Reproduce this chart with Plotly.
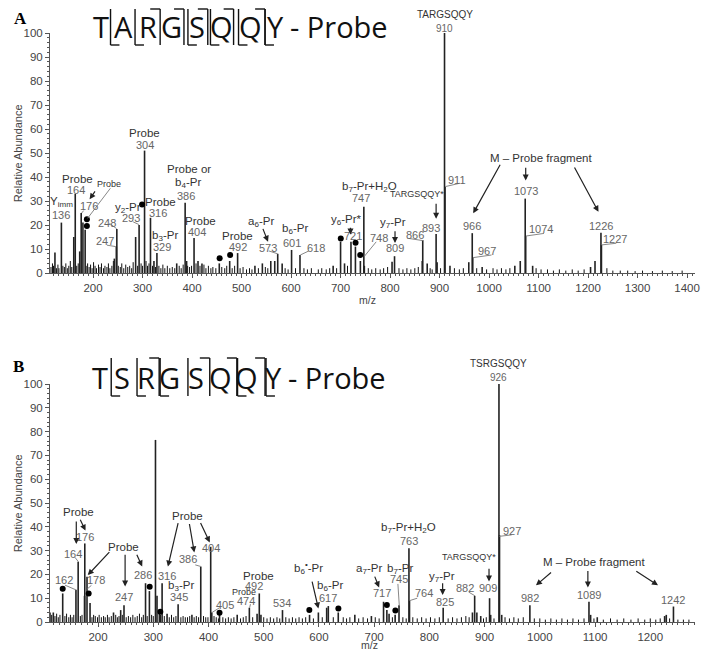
import plotly.graph_objects as go

# ---------------- data: panel A (TARGSQQY - Probe) ----------------
a_mz = [123, 136, 161, 164, 173, 176, 179.5, 184, 243, 247, 248, 286, 293, 304, 316, 323, 329,
        369, 386, 389, 404, 412, 420, 455, 476, 492, 527, 542, 559, 567, 573, 582, 601, 618,
        685, 700, 708, 721, 730, 740, 747, 748, 804, 809, 865, 866, 875, 893, 895, 910, 911,
        921, 959, 966, 967, 986, 1052, 1063, 1073, 1074, 1088, 1205, 1214, 1226, 1227]
a_int = [8.5, 21, 15, 33, 9, 25, 21, 18, 6, 11, 18.3, 15, 20, 51, 23, 5, 8.3,
         4, 29.3, 5, 14.6, 5, 4, 4, 5, 8.3, 3, 4, 5, 5, 8, 4, 9.6, 7.5,
         3, 13, 4, 13, 11, 5, 27.6, 3, 4.7, 7, 5, 13.7, 4, 16.2, 4.5, 100, 36,
         3, 4.5, 16.6, 6.4, 2.5, 3, 5, 31, 15.4, 3, 2.5, 5, 16.8, 11.7]
a_noise_mz = [115, 118, 120, 126, 129, 131, 139, 142, 145, 148, 151, 154, 157, 167, 170, 186, 189,
              192, 195, 198, 201, 204, 207, 211, 214, 217, 221, 224, 228, 231, 234, 238, 241, 251,
              255, 258, 262, 266, 270, 274, 278, 281, 290, 297, 300, 307, 310, 313, 320, 326, 333,
              337, 341, 345, 350, 355, 360, 365, 374, 378, 382, 391, 395, 399, 408, 416, 424, 428,
              433, 438, 442, 448, 460, 466, 470, 481, 486, 497, 503, 510, 516, 521, 534, 548, 553,
              588, 594, 609, 626, 633, 641, 655, 662, 671, 678, 692, 714, 756, 763, 771, 780, 787,
              795, 818, 826, 834, 842, 850, 857, 881, 885, 902, 930, 940, 948, 975, 995, 1008, 1016,
              1025, 1034, 1042, 1095, 1105, 1118, 1130, 1142, 1155, 1168, 1180, 1192, 1238, 1250,
              1265, 1280, 1295, 1310, 1330, 1350, 1370, 1390]
a_noise_int = [2.5, 4, 3, 2, 3.5, 2, 3, 2.5, 4, 2, 3, 5, 2.5, 3, 4, 3, 4,
               2.5, 3.5, 2, 4.5, 3, 2, 3.5, 2.5, 4, 2, 3, 2.5, 4, 2, 3, 5, 3,
               2.5, 4, 2, 3.5, 2.5, 3, 2, 4.5, 3, 4, 3, 5, 3, 4, 3, 2.5, 3,
               2, 3.5, 2, 3, 2, 2.5, 2, 3, 2, 3.5, 3, 2.5, 3, 4, 3, 3.5, 2,
               3, 2, 2.5, 2, 2.5, 2, 3, 2, 3, 2, 2.5, 1.5, 2, 1.5, 2, 2.5, 2,
               2, 1.5, 2, 2, 1.5, 2, 1.5, 2, 1.5, 2, 2, 3, 2, 1.5, 2, 1.5, 2,
               2.5, 2, 1.5, 2, 1.5, 2, 2.5, 2, 1.5, 2, 2, 1.5, 2, 2, 1.5, 2, 1.5,
               2, 1.5, 2, 2, 1.5, 1.5, 1, 1.5, 1, 1.5, 1, 1.5, 2, 1,
               1, 1, 0.8, 1, 0.8, 1, 0.8, 1]
a_dot_mz = [187.5, 187.5, 299, 455.7, 476.9, 700.4, 730.3, 739.7]
a_dot_int = [22.4, 19.6, 28.5, 6.1, 7.5, 14.4, 12.6, 7.5]

# ---------------- data: panel B (TSRGSQQY - Probe) ----------------
b_mz = [113, 119, 136, 160, 164, 175.5, 176, 180, 185.5, 228, 241, 247, 286, 293, 304, 306.8,
        311, 316, 325, 345, 370, 386, 404, 406, 420, 452, 474, 488, 492, 495, 534, 583, 599,
        614, 617, 635, 665, 695, 717, 723, 727, 738, 745, 763, 764, 825, 878, 882, 886, 893,
        909, 911, 926, 927, 931, 982, 1089, 1092, 1104, 1226, 1229, 1242]
b_int = [4, 4, 12, 13.5, 25.3, 11, 33, 19, 8, 4, 5, 7, 16.3, 13, 76.5, 11,
         4, 16.3, 3.5, 7.5, 3, 23.3, 31.6, 4, 3, 3, 6, 3.5, 12, 3, 5, 3, 4,
         6, 6.7, 4, 3, 2.5, 8.5, 5, 3.5, 3, 7, 31, 9, 6, 4, 11, 4, 2.5,
         10, 3, 100, 36.5, 3, 7, 8.5, 3, 2, 2.5, 3, 6.5]
b_noise_mz = [116, 122, 125, 128, 131, 140, 143, 147, 150, 153, 156, 168, 171, 189, 192, 195, 199,
              202, 206, 210, 213, 217, 220, 224, 232, 235, 238, 244, 251, 255, 259, 263, 267, 271,
              275, 279, 282, 289, 297, 300, 313, 320, 329, 333, 337, 341, 350, 354, 358, 362, 366,
              374, 378, 382, 391, 395, 399, 410, 414, 418, 426, 431, 436, 441, 446, 458, 463, 468,
              480, 500, 506, 512, 518, 524, 529, 540, 546, 552, 558, 564, 570, 576, 590, 606, 626,
              644, 650, 656, 672, 680, 688, 702, 709, 733, 752, 758, 770, 778, 786, 794, 802, 810,
              818, 834, 842, 850, 858, 866, 872, 898, 903, 917, 937, 945, 953, 961, 970, 990, 1000,
              1010, 1020, 1030, 1040, 1050, 1060, 1070, 1080, 1098, 1115, 1128, 1140, 1152, 1165,
              1178, 1190, 1200, 1210, 1218, 1235, 1250, 1260, 1270]
b_noise_int = [3, 2.5, 3.5, 2, 3, 2.5, 3.5, 2, 3, 2, 3, 2.5, 3, 2, 3, 2.5, 2,
               3, 2, 2.5, 2, 3, 2, 2.5, 3, 2, 2.5, 3, 2, 2.5, 2, 3, 2, 2.5,
               3.5, 2, 3, 2.5, 3, 2.5, 3, 2.5, 2, 3, 2, 2.5, 2, 2.5, 2, 2, 2.5,
               2, 2.5, 2, 2.5, 2, 2, 2.5, 2, 1.5, 2, 1.5, 2, 1.5, 2, 1.5, 2, 2.5,
               2, 2, 1.5, 2, 1.5, 2, 1.5, 2, 1.5, 2, 1.5, 2, 1.5, 2, 1.5, 2, 2,
               2, 1.5, 2, 1.5, 2, 1.5, 2, 1.5, 2, 2, 1.5, 2, 1.5, 2, 1.5, 2, 1.5,
               2, 1.5, 2, 1.5, 2, 2.5, 2, 1.5, 2, 1.5, 2, 1.5, 2, 1.5, 2, 1.5, 1.5,
               1, 1.5, 1, 1.5, 1, 1.5, 1, 1.5, 1.5, 1, 1.5, 1, 1.5, 1,
               1.5, 1, 1.5, 1, 1.5, 1.5, 1, 1, 1]
b_dot_mz = [136, 183, 293.5, 312.8, 420, 582.6, 635.2, 723, 738.4]
b_dot_int = [14, 12, 14.8, 4.3, 3.9, 5, 5.7, 7.1, 4.8]

seq_a = list("TARGSQQY")
seq_b = list("TSRGSQQY")

# ---------------- figure geometry ----------------
# the page body adds an 8 px margin all round, so the figure is made smaller
# (698 x 645) and every pixel position below is given in window pixels
OFF = 8
W, H = 698, 645
ML, MR, MT, MB = 42, 6, 25, 31


def px_x(px):
    return (px - OFF - ML) / (W - ML - MR)


def px_y(py):
    return (H - MB - (py - OFF)) / (H - MT - MB)


def sticks(mz, inten):
    xs, ys = [], []
    for m, h in zip(mz, inten):
        xs += [m, m, None]
        ys += [0, h, None]
    return xs, ys


fig = go.Figure()

for mz, inten, nmz, nint, dmz, dint, xa, ya in [
        (a_mz, a_int, a_noise_mz, a_noise_int, a_dot_mz, a_dot_int, "x", "y"),
        (b_mz, b_int, b_noise_mz, b_noise_int, b_dot_mz, b_dot_int, "x2", "y2")]:
    nx, ny = sticks(nmz, nint)
    fig.add_trace(go.Scatter(x=nx, y=ny, mode="lines", line=dict(color="#111", width=1),
                             xaxis=xa, yaxis=ya, showlegend=False, hoverinfo="skip"))
    sx, sy = sticks(mz, inten)
    fig.add_trace(go.Scatter(x=sx, y=sy, mode="lines", line=dict(color="#222", width=1.6),
                             xaxis=xa, yaxis=ya, showlegend=False))
    fig.add_trace(go.Scatter(x=dmz, y=dint, mode="markers", marker=dict(color="#000", size=6),
                             xaxis=xa, yaxis=ya, showlegend=False, cliponaxis=False))

FONT = "Liberation Sans Narrow, Arial Narrow, Liberation Sans, Arial"
STY = {"lab": dict(family=FONT, size=11.5, color="#333"),
       "num": dict(family=FONT, size=11, color="#666"),
       "small": dict(family=FONT, size=9, color="#333")}

labels_a = [
    (136, 29.7, "Y<sub>imm</sub>", "lab"), (136, 24.2, "136", "num"),
    (169, 39.2, "Probe", "lab"), (165, 34.6, "164", "num"),
    (233, 37, "Probe", "small"), (191, 28, "176", "num"),
    (229, 21, "248", "num"), (225, 13.3, "247", "num"),
    (270, 27.2, "y<sub>2</sub>-Pr", "lab"), (277, 23.0, "293", "num"),
    (304, 58.2, "Probe", "lab"), (304, 53.3, "304", "num"),
    (337, 29.5, "Probe", "lab"), (331, 24.9, "316", "num"),
    (346, 15.4, "b<sub>3</sub>-Pr", "lab"), (339, 11, "329", "num"),
    (394, 43.2, "Probe or", "lab"), (391, 37.4, "b<sub>4</sub>-Pr", "lab"), (387, 32.2, "386", "num"),
    (418, 21.8, "Probe", "lab"), (409, 17, "404", "num"),
    (492, 15.4, "Probe", "lab"), (492, 11, "492", "num"),
    (539, 21.1, "a<sub>6</sub>-Pr", "lab"), (553, 10.3, "573", "num"),
    (607, 18.2, "b<sub>6</sub>-Pr", "lab"), (602, 12.4, "601", "num"),
    (650, 10.3, "618", "num"),
    (712, 22, "y<sub>6</sub>-Pr*", "lab"), (725, 15.4, "721", "num"),
    (758, 36, "b<sub>7</sub>-Pr+H<sub>2</sub>O", "lab"), (742, 31.1, "747", "num"),
    (778, 14.7, "748", "num"),
    (805, 21, "y<sub>7</sub>-Pr", "lab"), (810, 10.3, "809", "num"),
    (850, 15.8, "866", "num"),
    (855, 32.8, "TARGSQQY*", "small"), (883, 18.6, "893", "num"),
    (935, 38.8, "911", "num"),
    (1104, 48, "M \u2013 Probe fragment", "lab"),
    (966, 19.6, "966", "num"), (995, 9.3, "967", "num"),
    (1074, 34.2, "1073", "num"), (1104, 18.2, "1074", "num"),
    (1227, 19.6, "1226", "num"), (1254, 14, "1227", "num"),
]
top_a = [(910, 19, "TARGSQQY", "small"), (910, 5, "910", "num")]
arrows_a = [(206, 34.6, 193, 30.7), (542, 19, 553.5, 13), (720, 19.5, 720, 16),
            (810, 18, 810, 12.5), (893, 29.5, 893, 22.6), (1024, 45.7, 968, 24.9),
            (1074, 44.5, 1074, 38.5), (1171, 44.6, 1221, 25.5)]
leaders_a = [(235, 35.3, 189, 22.8), (181, 26, 177, 25), (233, 20.7, 247.5, 18.5),
             (228, 11.6, 246, 11), (281, 21.3, 292.6, 20.2), (555, 9.2, 573, 8),
             (636, 9.2, 618.6, 7.5), (772, 13, 748.3, 7), (838, 14.4, 866, 13.5),
             (941, 37.4, 911.5, 36), (1005, 7.5, 967.5, 6.4), (1111, 16.5, 1074.5, 15.4),
             (1257, 12.4, 1227.5, 11.7)]

labels_b = [
    (165, 46.1, "Probe", "lab"), (177, 35.8, "176", "num"),
    (155, 28.6, "164", "num"), (138, 17.6, "162", "num"),
    (246, 31.6, "Probe", "lab"), (196, 17.6, "178", "num"),
    (247, 10.4, "247", "num"), (282, 19.7, "286", "num"), (325, 19.3, "316", "num"),
    (350, 15.1, "b<sub>3</sub>-Pr", "lab"), (347, 10.6, "345", "num"),
    (362, 44.7, "Probe", "lab"), (363.5, 26.3, "386", "num"), (404, 31, "404", "num"),
    (429, 7.1, "405", "num"),
    (491, 19.3, "Probe", "lab"), (483, 15.1, "492", "num"),
    (465, 12.7, "Probe", "small"), (468, 9, "474", "num"),
    (534, 7.8, "534", "num"),
    (581.5, 22.5, "b<sub>6</sub><sup>\u2022</sup>-Pr", "lab"),
    (620, 15.1, "b<sub>6</sub>-Pr", "lab"), (617, 10, "617", "num"),
    (691, 22.1, "a<sub>7</sub>-Pr", "lab"), (715, 12, "717", "num"),
    (747, 22.1, "b<sub>7</sub>-Pr", "lab"), (745.5, 17.9, "745", "num"),
    (762, 39.6, "b<sub>7</sub>-Pr+H<sub>2</sub>O", "lab"), (763, 34.2, "763", "num"),
    (790, 12, "764", "num"),
    (823, 19, "y<sub>7</sub>-Pr", "lab"), (829, 8.5, "825", "num"),
    (865, 14.1, "882", "num"),
    (871, 27.2, "TARGSQQY*", "small"), (906, 14.1, "909", "num"),
    (949, 38.4, "927", "num"),
    (1098, 25.3, "M \u2013 Probe fragment", "lab"),
    (983, 10, "982", "num"), (1089, 11.3, "1089", "num"), (1241, 9.2, "1242", "num"),
]
top_b = [(926, 20.5, "TSRGSQQY", "small"), (926, 6.3, "926", "num")]
arrows_b = [(160.6, 42.9, 160.6, 32.8), (166.5, 43.6, 177.3, 38.4), (223, 30, 181.4, 19.7),
            (249, 28.9, 249, 14.9), (269, 28.9, 280, 23.3), (345.6, 42.2, 326.5, 23.3),
            (365, 41.8, 374.3, 29.2), (384.4, 42.2, 402.3, 33.4), (587, 17.6, 599, 5.7),
            (700, 19.7, 709, 14.5), (824, 16.9, 824, 11.3), (908, 23, 908, 17),
            (1023, 21.3, 993, 15.4), (1087, 22.1, 1087, 14.5), (1172, 21.7, 1214, 15.4)]
leaders_b = [(158, 27.2, 164.5, 25.3), (140, 15.5, 160, 13.5), (188, 15.4, 181, 14),
             (376, 24, 386.5, 23.3), (420, 6, 406.5, 4), (476, 7.5, 474.5, 6),
             (743, 16, 745.5, 7), (778, 10, 764.5, 9), (871, 12.6, 882.5, 11),
             (949, 36.6, 927, 36)]

annotations = []
shapes = []
for labels, top, arrows, leaders, xr, yr in [
        (labels_a, top_a, arrows_a, leaders_a, "x", "y"),
        (labels_b, top_b, arrows_b, leaders_b, "x2", "y2")]:
    for x, y, t, k in labels:
        annotations.append(dict(x=x, y=y, xref=xr, yref=yr, text=t, showarrow=False,
                                font=STY[k], xanchor="center", yanchor="middle"))
    for x, ys, t, k in top:
        annotations.append(dict(x=x, y=100, xref=xr, yref=yr, text=t, showarrow=False,
                                font=dict(STY[k], size=10), yshift=ys,
                                xanchor="center", yanchor="middle"))
    for x0, y0, x1, y1 in arrows:
        annotations.append(dict(x=x1, y=y1, ax=x0, ay=y0, xref=xr, yref=yr, axref=xr, ayref=yr,
                                text="", showarrow=True, arrowhead=2, arrowsize=1,
                                arrowwidth=1.2, arrowcolor="#222"))
    for x0, y0, x1, y1 in leaders:
        shapes.append(dict(type="line", xref=xr, yref=yr, x0=x0, y0=y0, x1=x1, y1=y1,
                           line=dict(color="#888", width=1)))


def paper_text(x, y, text, font, angle=0, xanchor="center"):
    annotations.append(dict(x=px_x(x), y=px_y(y), xref="paper", yref="paper", text=text,
                            showarrow=False, font=font, textangle=angle,
                            xanchor=xanchor, yanchor="middle"))


# ---------------- peptide headers ----------------
HEAD_FONT = dict(family="Open Sans, Noto Sans, Liberation Sans", size=29, color="#111")
headers = [
    # letter x (px), "- Probe" x, centre y, bracket span, b markers (top hooks),
    # y markers (bottom hooks), plain dividers
    (seq_a, [101, 124.3, 148.3, 172.3, 198, 223.3, 251.7, 277.7], 290, 27, (9, 45),
     [161, 185, 209, 235, 266.7], [111, 135.7, 189, 211.7, 240, 266.7], []),
    (seq_b, [100, 123, 147, 170, 197, 222, 248, 275], 288, 377, (358, 396),
     [160, 211, 238.3, 266.7], [111.7, 137.7, 161, 239, 267.7], [189]),
]
for seq, xs, probe_x, yc, (y0, y1), bmk, ymk, plain in headers:
    for ch, x in zip(seq, xs):
        paper_text(x, yc, ch, HEAD_FONT)
    paper_text(probe_x, yc, "- Probe", HEAD_FONT, xanchor="left")
    ln = dict(color="#111", width=1.4)
    for x in bmk + ymk + plain:
        shapes.append(dict(type="line", xref="paper", yref="paper", x0=px_x(x), x1=px_x(x),
                           y0=px_y(y0), y1=px_y(y1), line=ln))
    for x in bmk:
        shapes.append(dict(type="line", xref="paper", yref="paper", x0=px_x(x - 10), x1=px_x(x),
                           y0=px_y(y0), y1=px_y(y0), line=ln))
    for x in ymk:
        shapes.append(dict(type="line", xref="paper", yref="paper", x0=px_x(x), x1=px_x(x + 9),
                           y0=px_y(y1), y1=px_y(y1), line=ln))

# panel letters, axis titles
SERIF = dict(family="Liberation Serif, Times New Roman", size=17, color="#000")
paper_text(20, 19, "<b>A</b>", SERIF)
paper_text(18, 366, "<b>B</b>", SERIF)
for yc in [153, 503]:
    paper_text(18, yc, "Relative Abundance", dict(family=FONT, size=11, color="#444"), angle=-90)
for x, y in [(370, 300), (372, 645)]:
    paper_text(x, y, "m/z", dict(family=FONT, size=10.5, color="#444"))

AX = dict(showline=True, linecolor="#555", linewidth=1, ticks="outside", ticklen=4,
          tickcolor="#555", showgrid=False, zeroline=False,
          tickfont=dict(family=FONT, size=11.5, color="#444"))
fig.update_layout(
    width=W, height=H, plot_bgcolor="white", paper_bgcolor="white",
    margin=dict(l=ML, r=MR, t=MT, b=MB),
    xaxis=dict(AX, domain=[0, 1], anchor="y", range=[113, 1416], dtick=100, tick0=0,
               minor=dict(dtick=10, ticklen=2, tickcolor="#555", ticks="outside")),
    yaxis=dict(AX, domain=[px_y(273), 1], anchor="x", range=[0, 100], dtick=10,
               minor=dict(dtick=2, ticklen=2, tickcolor="#555", ticks="outside")),
    xaxis2=dict(AX, domain=[0, 1], anchor="y2", range=[113, 1281], dtick=100, tick0=0,
                minor=dict(dtick=10, ticklen=2, tickcolor="#555", ticks="outside")),
    yaxis2=dict(AX, domain=[0, px_y(384)], anchor="x2", range=[0, 100], dtick=10,
                minor=dict(dtick=2, ticklen=2, tickcolor="#555", ticks="outside")),
    annotations=annotations, shapes=shapes,
)

fig.write_html("out.html")
